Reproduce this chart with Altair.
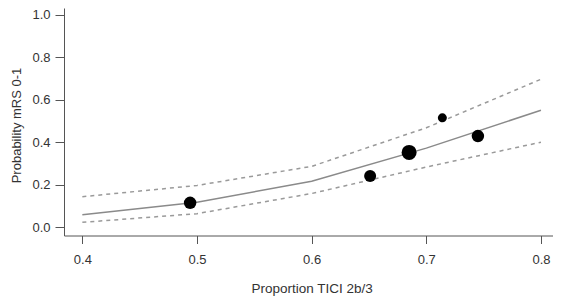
import altair as alt
import pandas as pd

# Fitted curve and confidence band
grid_x = [0.4, 0.5, 0.6, 0.7, 0.8]
fit_y = [0.058, 0.117, 0.216, 0.372, 0.551]
upper_y = [0.143, 0.196, 0.286, 0.468, 0.697]
lower_y = [0.022, 0.063, 0.158, 0.283, 0.400]

# Observed points (relative weight drives dot area)
obs_x = [0.494, 0.651, 0.685, 0.714, 0.745]
obs_y = [0.114, 0.241, 0.352, 0.515, 0.429]
obs_w = [0.69, 0.64, 1.00, 0.36, 0.69]

x_ticks = [0.4, 0.5, 0.6, 0.7, 0.8]
y_ticks = [0.0, 0.2, 0.4, 0.6, 0.8, 1.0]

curves = pd.DataFrame({"x": grid_x, "fit": fit_y, "upper": upper_y, "lower": lower_y})
points = pd.DataFrame({"x": obs_x, "y": obs_y, "w": obs_w})

FONT = "Liberation Sans"

xscale = alt.Scale(domain=[0.384, 0.8105], nice=False, zero=False)
yscale = alt.Scale(domain=[-0.04, 1.033], nice=False, zero=False)

xaxis = alt.Axis(
    values=x_ticks, format=".1f", title="Proportion TICI 2b/3", grid=False,
    tickSize=8, labelPadding=10, labelFontSize=13, labelFont=FONT, labelColor="#333333",
    titleFont=FONT, titleFontSize=13.5, titleFontWeight="normal", titleColor="#333333",
    titleX=247.7, titleY=57, titleAlign="center", titleBaseline="alphabetic",
    domainColor="#555555", tickColor="#555555",
)
yaxis = alt.Axis(
    values=y_ticks, format=".1f", title="Probability mRS 0-1", grid=False,
    tickSize=9, labelPadding=5, labelFontSize=13, labelFont=FONT, labelColor="#333333",
    titleFont=FONT, titleFontSize=13, titleFontWeight="normal", titleColor="#333333",
    titleX=-44, titleY=117, titleAngle=270, titleAlign="center", titleBaseline="alphabetic",
    domainColor="#555555", tickColor="#555555",
)

base = alt.Chart(curves)

fit_line = base.mark_line(color="#8a8a8a", strokeWidth=1.5).encode(
    x=alt.X("x:Q", scale=xscale, axis=xaxis),
    y=alt.Y("fit:Q", scale=yscale, axis=yaxis),
)
upper_line = base.mark_line(color="#9a9a9a", strokeWidth=1.5, strokeDash=[4, 4]).encode(
    x=alt.X("x:Q", scale=xscale),
    y=alt.Y("upper:Q", scale=yscale),
)
lower_line = base.mark_line(color="#9a9a9a", strokeWidth=1.5, strokeDash=[4, 4]).encode(
    x=alt.X("x:Q", scale=xscale),
    y=alt.Y("lower:Q", scale=yscale),
)
dots = alt.Chart(points).mark_circle(color="black", opacity=1).encode(
    x=alt.X("x:Q", scale=xscale),
    y=alt.Y("y:Q", scale=yscale),
    size=alt.Size("w:Q", scale=alt.Scale(domain=[0, 1], range=[0, 225]), legend=None),
)

chart = alt.layer(fit_line, upper_line, lower_line, dots).properties(
    width=489,
    height=227.5,
    autosize=alt.AutoSizeParams(type="none"),
    padding={"left": 56, "top": 0, "right": 0, "bottom": 62},
    background="white",
).configure_view(stroke=None)

chart.save("out.html", embed_options={"renderer": "svg", "actions": False})
